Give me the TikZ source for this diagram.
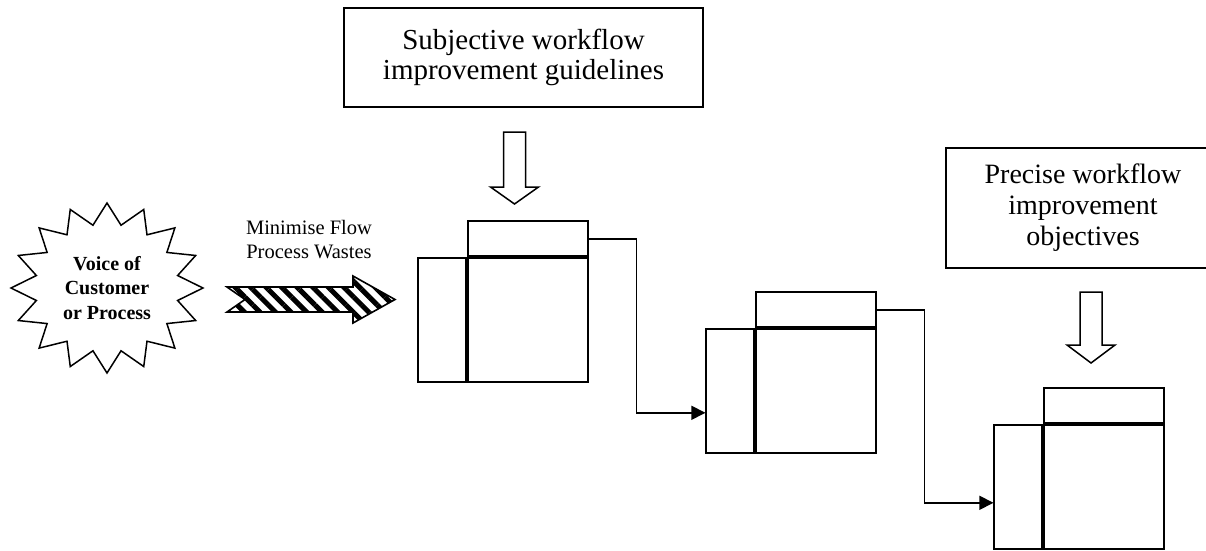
\documentclass[tikz,border=0pt]{standalone}
\usepackage{fontspec}
\setmainfont{Liberation Serif}
\usetikzlibrary{arrows.meta,patterns.meta,calc}
\begin{document}
\begin{tikzpicture}[x=1pt,y=-1pt,line width=1.6pt,
  tbox/.style={draw,line width=1.6pt,align=center,inner sep=0pt},
  phead/.style={draw,minimum width=120pt,minimum height=35pt,inner sep=0pt,anchor=south west},
  pmain/.style={draw,minimum width=120pt,minimum height=124pt,inner sep=0pt,anchor=north west},
  pleft/.style={draw,minimum width=48pt,minimum height=124pt,inner sep=0pt,anchor=north east},
  thickline/.style={line width=3pt},
  conn/.style={line width=1.6pt,-{Triangle[length=14pt,width=14pt]}},
  blockarrow/.style={draw,line width=1.5pt,fill=white,line join=miter},
  burst/.style={draw,line width=1.5pt,line join=miter},
]
\useasboundingbox (0,0) rectangle (1206,550);
\clip (0,0) rectangle (1206,550);

% top box
\node[tbox,minimum width=359pt,minimum height=99pt,font=\fontsize{29}{30}\selectfont] (subj) at (523.5,57.5)
  {Subjective workflow\\improvement guidelines};
% precise box (clipped at right)
\node[tbox,minimum width=274pt,minimum height=120pt,font=\fontsize{28}{31}\selectfont] (prec) at (1083,208)
  {Precise workflow\\improvement\\objectives};

% block down arrows
\draw[blockarrow] (514.5,132) -- ++(11,0) -- ++(0,55) -- ++(13,0) -- ++(-24,17)
  -- ++(-24,-17) -- ++(13,0) -- ++(0,-55) -- cycle;
\draw[blockarrow] (1091,292) -- ++(11,0) -- ++(0,53) -- ++(13,0) -- ++(-24,18)
  -- ++(-24,-18) -- ++(13,0) -- ++(0,-53) -- cycle;

% starburst
\draw[burst] (107,203) \foreach \i in {0,...,15} {
  -- ({107+72*sin(\i*22.5+11.25)},{288-64*cos(\i*22.5+11.25)})
  -- ({107+96*sin((\i+1)*22.5)},{288-85*cos((\i+1)*22.5)}) } -- cycle;
\node[align=center,inner sep=0pt,font=\bfseries\fontsize{20}{24.5}\selectfont] (voc) at (107,288)
  {Voice of\\Customer\\or Process};

% hatched arrow
\node[align=center,inner sep=0pt,font=\fontsize{20.5}{24}\selectfont] (waste) at (309,240)
  {Minimise Flow\\Process Wastes};
\draw[line width=1.6pt,line join=miter,pattern={Lines[angle=-45,distance=11pt,line width=5pt]}]
  (227,287) -- (353,287) -- (353,276) -- (395,299.5) -- (353,323) -- (353,312)
  -- (227,312) -- (245,299.5) -- cycle;

% process boxes
\node[pmain] (p1main) at (467,257) {};
\node[phead] (p1head) at (467,257) {};
\node[pleft] (p1left) at (467,257) {};
\draw[thickline] (p1head.south west) -- (p1head.south east);

\node[pmain] (p2main) at (755,328) {};
\node[phead] (p2head) at (755,328) {};
\node[pleft] (p2left) at (755,328) {};
\draw[thickline] (p2head.south west) -- (p2head.south east);

\node[pmain] (p3main) at (1043,424) {};
\node[phead] (p3head) at (1043,424) {};
\node[pleft] (p3left) at (1043,424) {};
\draw[thickline] (p3head.south west) -- (p3head.south east);

% connectors
\draw[conn] (p1head.east) -- ++(48,0) |- ([yshift=-22pt]p2left.west);
\draw[conn] (p2head.east) -- ++(48,0) |- ([yshift=-16pt]p3left.west);
\end{tikzpicture}
\end{document}
